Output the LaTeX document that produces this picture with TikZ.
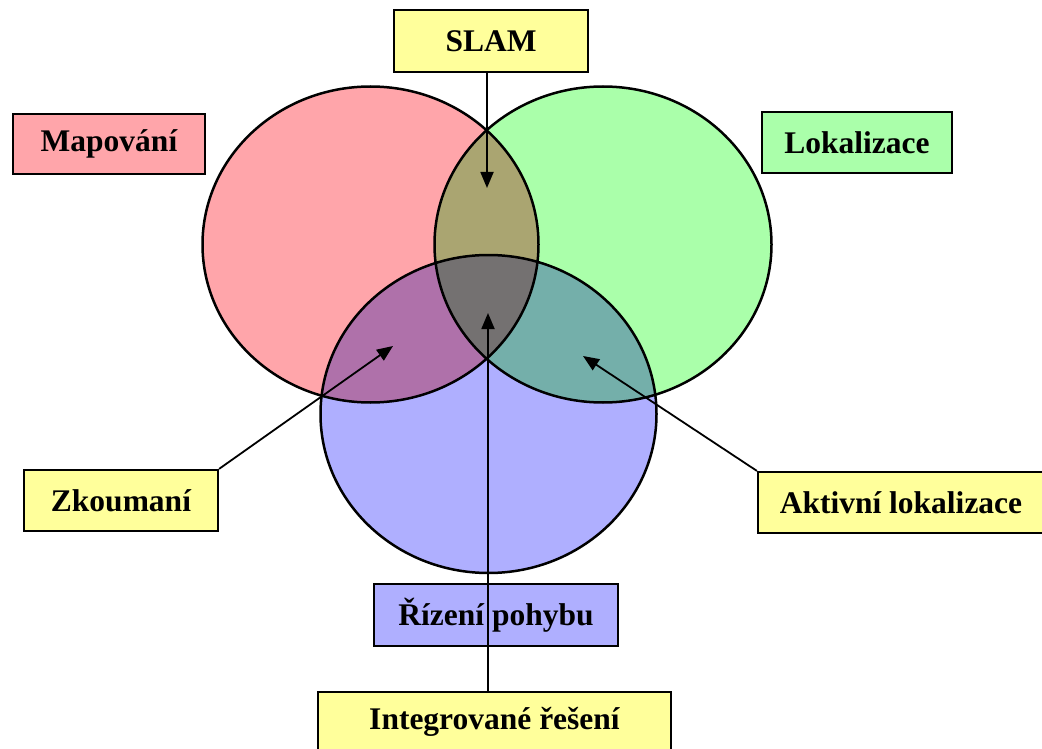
\documentclass[tikz,border=0pt]{standalone}
\usepackage{fontspec}
\setmainfont{Liberation Serif}
\usetikzlibrary{arrows.meta}
\definecolor{pinkfill}{RGB}{255,165,170}
\definecolor{limefill}{RGB}{170,255,170}
\definecolor{bluefill}{RGB}{175,175,255}
\definecolor{yelfill}{RGB}{255,255,155}
\tikzset{
  lbl/.style={draw=black, line width=2.2pt, inner sep=0pt, font=\fontsize{31.5}{36}\selectfont\bfseries, text=black},
  circ/.style={draw=black, line width=2.5pt},
  conn/.style={draw=black, line width=1.8pt},
  arr/.style={conn, -{Triangle[length=16pt,width=13pt]}}
}
\begin{document}
\begin{tikzpicture}[x=1pt,y=-1pt]
\useasboundingbox (0,0) rectangle (1042,749);
% circles
\begin{scope}[blend mode=multiply]
\fill[pinkfill] (370.5,244.5) ellipse [x radius=168, y radius=158];
\draw[circ] (370.5,244.5) ellipse [x radius=168, y radius=158];
\fill[limefill] (603,244.5) ellipse [x radius=168.5, y radius=158];
\draw[circ] (603,244.5) ellipse [x radius=168.5, y radius=158];
\fill[bluefill] (488.5,414) ellipse [x radius=168, y radius=159];
\draw[circ] (488.5,414) ellipse [x radius=168, y radius=159];
\end{scope}
% labels
\node[lbl, fill=yelfill, minimum width=194, minimum height=62] (slam) at (491,41) {SLAM};
\node[lbl, fill=pinkfill, minimum width=192, minimum height=60] (map) at (109,144) {Mapování};
\node[lbl, fill=limefill, minimum width=190, minimum height=61] (lok) at (857,142.5) {Lokalizace};
\node[lbl, fill=yelfill, minimum width=194, minimum height=61] (zk) at (121,500.5) {Zkoumaní};
\node[lbl, fill=yelfill, minimum width=286, minimum height=61] (ak) at (901,502.5) {Aktivní lokalizace};
\node[lbl, fill=bluefill, minimum width=244, minimum height=62] (riz) at (496,615) {Řízení pohybu};
\node[lbl, fill=yelfill, minimum width=353, minimum height=60] (int) at (494.5,722) {Integrované řešení};
% arrow tips
\coordinate (slamtip) at (487,188);
\coordinate (inttip) at (488,313);
\coordinate (zktip) at (393,346);
\coordinate (aktip) at (583,356);
\draw[arr] (slam.south -| slamtip) -- (slamtip);
\draw[arr] (int.north -| inttip) -- (inttip);
\draw[arr] (zk.north east) -- (zktip);
\draw[arr] (ak.north west) -- (aktip);
\end{tikzpicture}
\end{document}
